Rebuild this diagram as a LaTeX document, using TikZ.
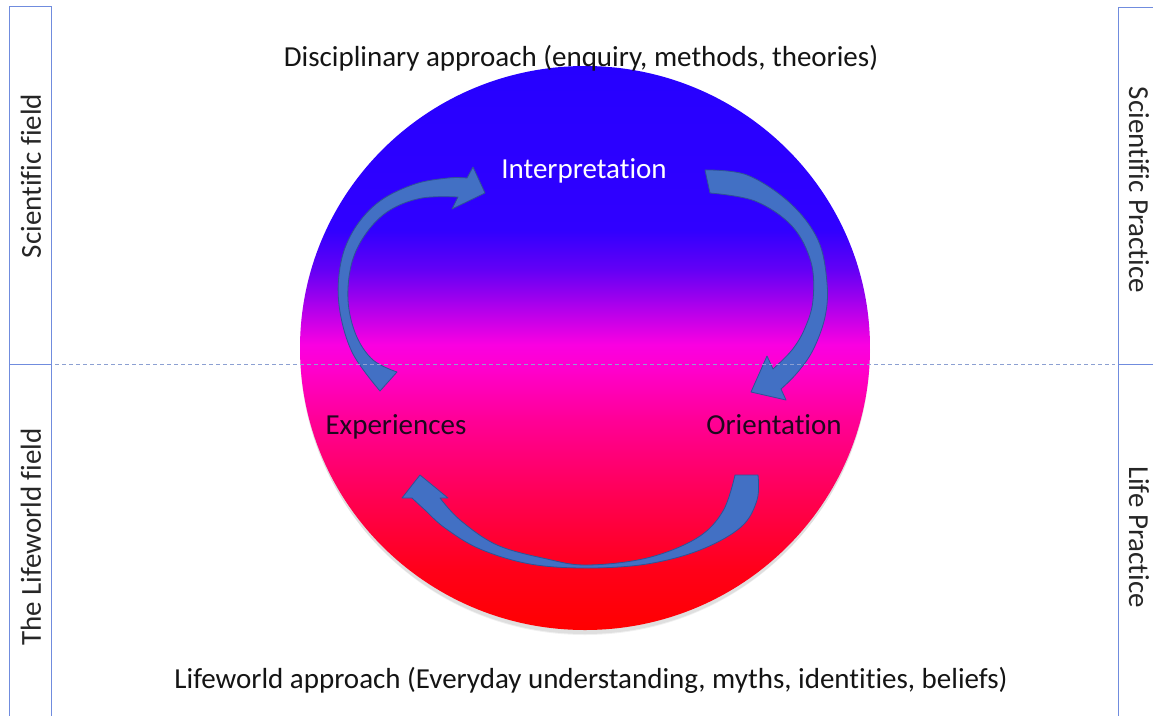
\documentclass[tikz,border=0pt]{standalone}
\usepackage{fontspec}
\setmainfont{Carlito}[Ligatures=NoCommon]
\usetikzlibrary{shapes.geometric,calc}

% palette
\definecolor{frameblue}{RGB}{112,140,222}
\definecolor{dashblue}{RGB}{140,160,210}
\definecolor{arrowfill}{RGB}{66,112,196}
\definecolor{arrowline}{RGB}{47,82,150}
\definecolor{labeldark}{RGB}{30,8,30}
\definecolor{shA}{RGB}{38,0,255}
\definecolor{shB}{RGB}{48,0,255}
\definecolor{shC}{RGB}{100,0,245}
\definecolor{shD}{RGB}{180,0,235}
\definecolor{shE}{RGB}{250,0,225}
\definecolor{shF}{RGB}{255,0,208}
\definecolor{shG}{RGB}{255,0,150}
\definecolor{shH}{RGB}{255,0,80}
\definecolor{shI}{RGB}{255,0,25}
\definecolor{shJ}{RGB}{255,0,0}

% vertical blend of the sphere: red at the bottom, blue at the top
\pgfdeclareverticalshading{lifesphere}{100bp}{%
  color(0bp)=(shJ); color(25bp)=(shJ); color(30.3bp)=(shI);
  color(36.5bp)=(shH); color(43.6bp)=(shG); color(48.5bp)=(shF);
  color(50.3bp)=(shE); color(53.4bp)=(shD); color(56.9bp)=(shC);
  color(60.5bp)=(shB); color(75bp)=(shA); color(100bp)=(shA)}

\tikzset{
  frame/.style={draw=frameblue, line width=0.9pt},
  divider/.style={draw=dashblue, line width=1pt, dash pattern=on 4pt off 3pt},
  sidelabel/.style={font=\fontsize{29}{34}\selectfont, text=black!85},
  headline/.style={font=\fontsize{29}{34}\selectfont, text=black!92},
  stage/.style={font=\fontsize{29}{34}\selectfont},
  cyclearrow/.style={fill=arrowfill, draw=arrowline, line width=0.8pt, line join=round},
}

\begin{document}
\begin{tikzpicture}[x=1pt,y=-1pt]
\useasboundingbox (0,0) rectangle (1153,715);
\fill[white] (0,0) rectangle (1153,715);

% side frames
\coordinate (lt1) at (9,6);   \coordinate (lt2) at (51,6);
\coordinate (lm1) at (9,364); \coordinate (lm2) at (51,364);
\coordinate (rt1) at (1118,7);   \coordinate (rt2) at (1160,7);
\coordinate (rm1) at (1118,364); \coordinate (rm2) at (1160,364);
\draw[frame] (9,720) -- (lt1) -- (lt2) -- (51,720);
\draw[frame] (lm1) -- (lm2);
\draw[frame] (1118,720) -- (rt1) -- (rt2);
\draw[frame] (rm1) -- (rm2);

\node[sidelabel, rotate=90] (sciField) at (31,176) {Scientific field};
\node[sidelabel, rotate=90] (lifeField) at (31,537) {The Lifeworld field};
\node[sidelabel, rotate=-90] (sciPractice) at (1139,190) {Scientific Practice};
\node[sidelabel, rotate=-90] (lifePractice) at (1139,537) {Life Practice};

% soft shadow under the sphere
\fill[black, opacity=0.07] (585,351) ellipse [x radius=285pt, y radius=283pt];
\fill[black, opacity=0.06] (585,353) ellipse [x radius=284pt, y radius=282pt];

% the sphere
\node[ellipse, minimum width=570pt, minimum height=564pt, inner sep=0pt,
      shading=lifesphere] (sphere) at (585,348) {};

% Experiences -> Interpretation
\path[cyclearrow]
  plot[smooth, tension=0.6] coordinates {(380,391) (352,352) (339,305) (341,262) (355,228) (380,201) (415,184) (448,178) (467,178)}
  -- (473,167) -- (485,193) -- (452,209) --
  plot[smooth, tension=0.6] coordinates {(458,197) (422,198) (390,210) (367,232) (352,262) (348,300) (356,335) (373,360) (397,372)}
  -- cycle;

% Interpretation -> Orientation
\path[cyclearrow]
  plot[smooth, tension=0.6] coordinates {(705,170) (747,175) (790,203) (818,240) (827,283) (825,317) (813,350) (797,373) (781,389)}
  -- (786,400) -- (751,392) -- (767,356) --
  plot[smooth, tension=0.6] coordinates {(773,369) (792,350) (805,328) (813,300) (811,262) (792,226) (755,201) (710,193)}
  -- cycle;

% Orientation -> Experiences
\path[cyclearrow]
  plot[smooth, tension=0.6] coordinates {(758,475) (757,500) (741,527) (700,550) (647,564) (587,568) (530,564) (480,549) (445,528) (425,510) (412,498)}
  -- (402,498) -- (420,475) -- (448,498) --
  plot[smooth, tension=0.6] coordinates {(440,498) (460,520) (497,545) (547,559) (587,565) (647,558) (697,538) (723,511) (735,475)}
  -- cycle;

% boundary between the two fields
\draw[divider] ($(lm2)+(4,0)$) -- ($(rm1)+(-3,0)$);

% stage labels
\node[stage, text=white, anchor=base] (interp) at (584,178) {Interpretation};
\node[stage, text=labeldark, anchor=base] (exper) at (396,434) {Experiences};
\node[stage, text=labeldark, anchor=base] (orient) at (774,434) {Orientation};

% headings
\node[headline, anchor=base] (disc) at (581,66) {Disciplinary approach (enquiry, methods, theories)};
\node[headline, anchor=base] (life) at (591,688) {Lifeworld approach (Everyday understanding, myths, identities, beliefs)};
\end{tikzpicture}
\end{document}
